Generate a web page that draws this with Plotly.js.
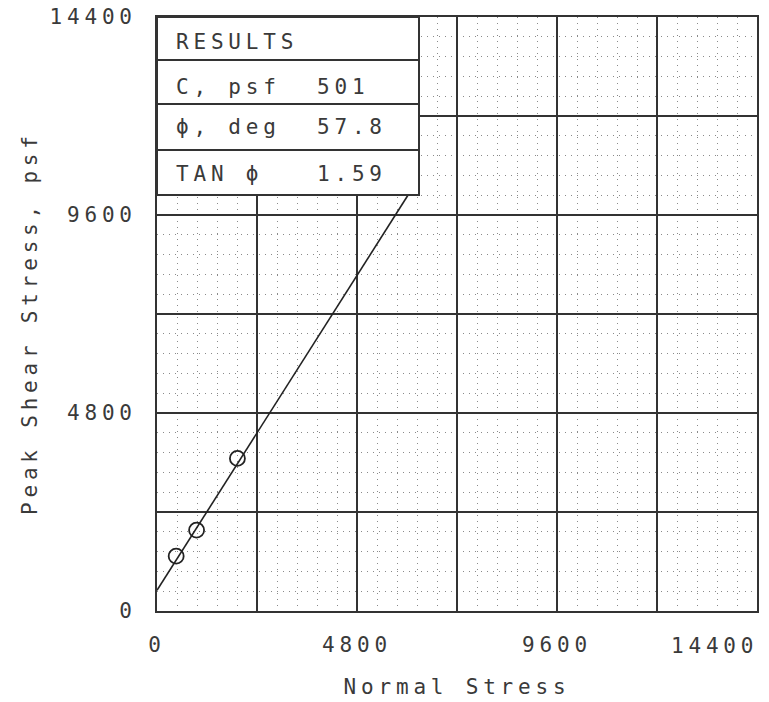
<!DOCTYPE html>
<html>
<head>
<meta charset="utf-8">
<script src="https://cdn.plot.ly/plotly-3.0.1.min.js"></script>
<style>
  body { margin: 0; background: #fff; }
  text { letter-spacing: 4.8px; }
</style>
</head>
<body>
<div id="chart" style="width:769px;height:702px;"></div>
<script>
// ---- data ----
const normalStress = [460, 950, 1930];
const peakShear = [1330, 1960, 3700];
const fitNormal = [0, 6030];
const fitShear = [501, 10090];

const gridVals = [0, 2400, 4800, 7200, 9600, 12000, 14400];
const xTickText = ['0', '', '4800', '', '9600', '', ''];
const xEndTickVals = [14400];
const xEndTickText = ['14400'];
const yTickText = ['0', '', '4800', '', '9600', '', '14400'];

const xTitle = 'Normal Stress';
const yTitle = 'Peak Shear Stress, psf';
const resultLabels = ['RESULTS', 'C, psf', '\u03D5, deg', 'TAN \u03D5'];
const resultValues = ['', '501', '57.8', '1.59'];

// ---- styles ----
const FONT = 'DejaVu Sans Mono, monospace';
const TXT = '#3a3a3a';
const INK = '#333';
const plotL = 157, plotT = 17, plotW = 600, plotH = 594;
const px2x = p => (p - plotL) / plotW;
const px2y = p => (plotT + plotH - p) / plotH;

const traces = [
  {
    x: fitNormal, y: fitShear, mode: 'lines', type: 'scatter',
    line: {color: '#222', width: 1.6}, showlegend: false, hoverinfo: 'skip'
  },
  {
    x: normalStress, y: peakShear, mode: 'markers', type: 'scatter',
    marker: {symbol: 'circle-open', size: 15, color: '#222', line: {width: 1.8, color: '#222'}},
    showlegend: false
  }
];

// results box geometry (pixel rows of the table)
const boxRight = 419, boxBottom = 195;
const rowLines = [60, 104, 150];
const rowCenters = [42, 87, 127, 174];
const labelX = 175, valueX = 316;

const shapes = [{
  type: 'rect', xref: 'paper', yref: 'paper',
  x0: 0, x1: px2x(boxRight), y0: px2y(boxBottom), y1: 1,
  fillcolor: '#fff', line: {color: INK, width: 2}, layer: 'above'
}];
rowLines.forEach(r => shapes.push({
  type: 'line', xref: 'paper', yref: 'paper',
  x0: 0, x1: px2x(boxRight), y0: px2y(r), y1: px2y(r),
  line: {color: INK, width: 2}, layer: 'above'
}));

const txtFont = {family: FONT, size: 21, color: TXT};
const annotations = [];
resultLabels.forEach((t, i) => {
  annotations.push({
    xref: 'paper', yref: 'paper', x: px2x(labelX), y: px2y(rowCenters[i]),
    xanchor: 'left', yanchor: 'middle', text: t, showarrow: false, borderpad: 0,
    font: txtFont
  });
  if (resultValues[i]) annotations.push({
    xref: 'paper', yref: 'paper', x: px2x(valueX), y: px2y(rowCenters[i]),
    xanchor: 'left', yanchor: 'middle', text: resultValues[i], showarrow: false, borderpad: 0,
    font: txtFont
  });
});
// last x tick label sits left of its gridline in the reference
xEndTickVals.forEach((v, i) => annotations.push({
  xref: 'x', yref: 'paper', x: v, y: 0, xanchor: 'right', yanchor: 'top',
  yshift: -22, xshift: 2, text: xEndTickText[i], showarrow: false, borderpad: 0,
  font: txtFont
}));
// y axis title (placed slightly below the axis centre, as in the reference)
annotations.push({
  xref: 'paper', yref: 'paper', x: px2x(30), y: px2y(323),
  xanchor: 'center', yanchor: 'middle', textangle: -90,
  text: yTitle, showarrow: false, borderpad: 0, font: txtFont
});

const axisCommon = {
  range: [0, 14400], tickmode: 'array', tickvals: gridVals,
  showgrid: true, gridcolor: INK, gridwidth: 2,
  zeroline: false, showline: true, mirror: true, linecolor: INK, linewidth: 2,
  ticks: '', ticklen: 0,
  tickfont: txtFont,
  minor: {tickmode: 'linear', tick0: 0, dtick: 480, showgrid: true,
          gridcolor: '#8a8a8a', gridwidth: 1, griddash: '1px,5px', ticks: ''},
  fixedrange: true
};

const layout = {
  width: 769, height: 702,
  margin: {l: plotL, r: 769 - plotL - plotW, t: plotT, b: 702 - plotT - plotH},
  paper_bgcolor: '#fff', plot_bgcolor: '#fff',
  xaxis: Object.assign({}, axisCommon, {
    ticktext: xTickText, ticklabelstandoff: 14,
    title: {text: xTitle, font: txtFont, standoff: 23}
  }),
  yaxis: Object.assign({}, axisCommon, {
    ticktext: yTickText, ticklabelstandoff: 14
  }),
  shapes: shapes,
  annotations: annotations,
  showlegend: false
};

Plotly.newPlot('chart', traces, layout, {displayModeBar: false, staticPlot: true});
</script>
</body>
</html>
